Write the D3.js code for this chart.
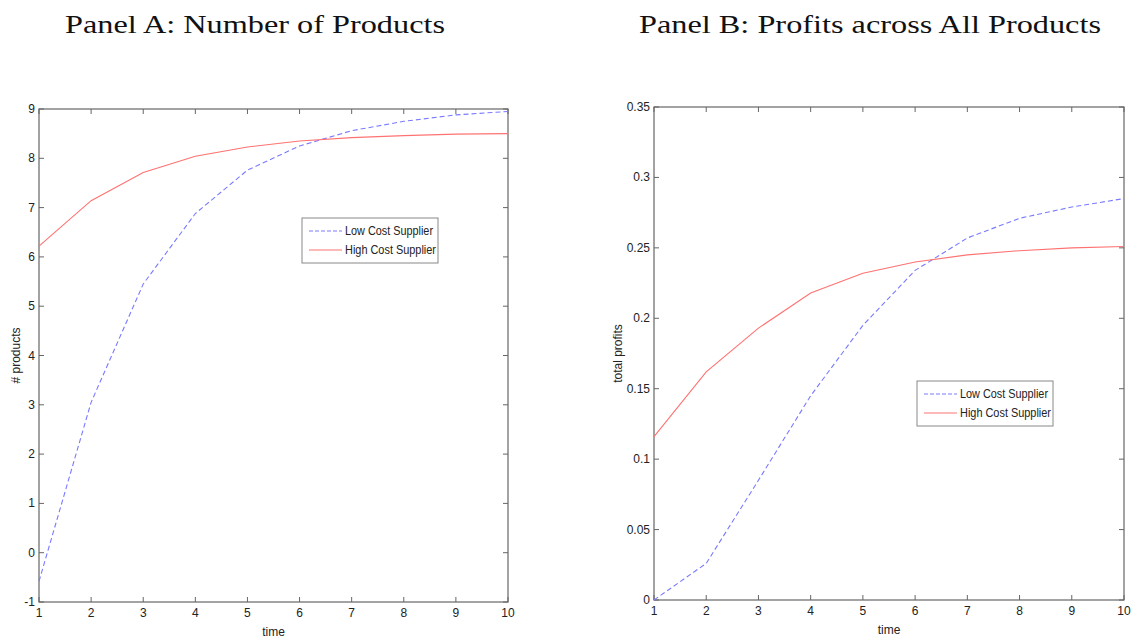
<!DOCTYPE html>
<html>
<head>
<meta charset="utf-8">
<script src="https://cdn.jsdelivr.net/npm/d3@7"></script>
<style>
	body { margin: 0; background: #fff; }
	svg { display: block; }
	.tick-label { font-family: 'Liberation Sans Narrow', 'Liberation Sans', Arial, sans-serif; font-size: 12px; fill: #222; }
	.title { font-family: 'Liberation Serif', 'DejaVu Serif', serif; font-size: 25px; fill: #111; }
</style>
</head>
<body>
<div id="chart"></div>
<script>
// Data
const times = [1, 2, 3, 4, 5, 6, 7, 8, 9, 10];
const productsLow = [-0.58, 3.05, 5.45, 6.88, 7.76, 8.25, 8.56, 8.75, 8.88, 8.95];
const productsHigh = [6.22, 7.14, 7.71, 8.04, 8.23, 8.35, 8.42, 8.46, 8.49, 8.5];
const profitsLow = [0.0, 0.026, 0.085, 0.145, 0.195, 0.234, 0.257, 0.271, 0.279, 0.285];
const profitsHigh = [0.116, 0.162, 0.193, 0.218, 0.232, 0.240, 0.245, 0.248, 0.250, 0.251];
const seriesNames = ['Low Cost Supplier', 'High Cost Supplier'];
const yTicksA = [-1, 0, 1, 2, 3, 4, 5, 6, 7, 8, 9];
const yTicksB = [0, 0.05, 0.1, 0.15, 0.2, 0.25, 0.3, 0.35];

const W = 1137, H = 641;
const blue = '#7a7aff', red = '#ff7272';

const svg = d3.select('#chart').append('svg').attr('width', W).attr('height', H);

function panel(opts) {
	const x = d3.scaleLinear().domain([1, 10]).range([opts.left, opts.right]);
	const y = d3.scaleLinear().domain(opts.yDomain).range([opts.bottom, opts.top]);
	const g = svg.append('g');

	// title
	svg.append('text').attr('class', 'title')
		.attr('x', opts.titleX).attr('y', 33)
		.attr('text-anchor', 'middle')
		.attr('textLength', opts.titleW).attr('lengthAdjust', 'spacingAndGlyphs')
		.text(opts.title);

	// box
	g.append('rect')
		.attr('x', opts.left).attr('y', opts.top)
		.attr('width', opts.right - opts.left).attr('height', opts.bottom - opts.top)
		.attr('fill', 'none').attr('stroke', '#666').attr('stroke-width', 1.2);

	// inward ticks on all four sides
	const tl = 5;
	g.selectAll('.xt').data(times).enter().append('path')
		.attr('d', (d) => `M${x(d)},${opts.bottom}v${-tl}M${x(d)},${opts.top}v${tl}`)
		.attr('stroke', '#666');
	g.selectAll('.yt').data(opts.yTicks).enter().append('path')
		.attr('d', (d) => `M${opts.left},${y(d)}h${tl}M${opts.right},${y(d)}h${-tl}`)
		.attr('stroke', '#666');

	g.selectAll('.xl').data(times).enter().append('text').attr('class', 'tick-label')
		.attr('x', (d) => x(d)).attr('y', opts.bottom + 15)
		.attr('text-anchor', 'middle').text((d) => d);
	g.selectAll('.yl').data(opts.yTicks).enter().append('text').attr('class', 'tick-label')
		.attr('x', opts.left - 4).attr('y', (d) => y(d) + 4)
		.attr('text-anchor', 'end').text(opts.yFormat);

	// axis labels
	g.append('text').attr('class', 'tick-label')
		.attr('x', (opts.left + opts.right) / 2).attr('y', opts.bottom + 34)
		.attr('text-anchor', 'middle').text('time');
	g.append('text').attr('class', 'tick-label')
		.attr('transform', `translate(${opts.yLabelX},${(opts.top + opts.bottom) / 2}) rotate(-90)`)
		.attr('text-anchor', 'middle').text(opts.yLabel);

	// lines
	const line = d3.line().x((d, i) => x(times[i])).y((d) => y(d));
	g.append('path').datum(opts.low).attr('d', line)
		.attr('fill', 'none').attr('stroke', blue).attr('stroke-width', 1.1).attr('stroke-dasharray', '5,3');
	g.append('path').datum(opts.high).attr('d', line)
		.attr('fill', 'none').attr('stroke', red).attr('stroke-width', 1.1);

	// legend
	const lg = g.append('g').attr('transform', `translate(${opts.legX},${opts.legY})`);
	lg.append('rect').attr('width', 136).attr('height', 45)
		.attr('fill', '#fff').attr('stroke', '#888').attr('stroke-width', 1);
	[blue, red].forEach((c, i) => {
		lg.append('line').attr('x1', 7).attr('x2', 40).attr('y1', 13 + i * 19).attr('y2', 13 + i * 19)
			.attr('stroke', c).attr('stroke-width', 1.1).attr('stroke-dasharray', i === 0 ? '4,2' : null);
		lg.append('text').attr('class', 'tick-label').attr('x', 43).attr('y', 17 + i * 19)
			.attr('textLength', i === 0 ? 88 : 91).attr('lengthAdjust', 'spacingAndGlyphs')
			.text(seriesNames[i]);
	});
}

panel({
	title: 'Panel A: Number of Products', titleX: 255, titleW: 380,
	left: 39, right: 508, top: 109, bottom: 602,
	yDomain: [-1, 9], yTicks: yTicksA, yFormat: (d) => d,
	yLabel: '# products', yLabelX: 20,
	low: productsLow, high: productsHigh,
	legX: 302, legY: 218,
});

panel({
	title: 'Panel B: Profits across All Products', titleX: 870, titleW: 462,
	left: 654, right: 1124, top: 107, bottom: 600,
	yDomain: [0, 0.35], yTicks: yTicksB, yFormat: (d) => (d === 0 ? '0' : String(+d.toFixed(2))),
	yLabel: 'total profits', yLabelX: 622,
	low: profitsLow, high: profitsHigh,
	legX: 917, legY: 381,
});
</script>
</body>
</html>
